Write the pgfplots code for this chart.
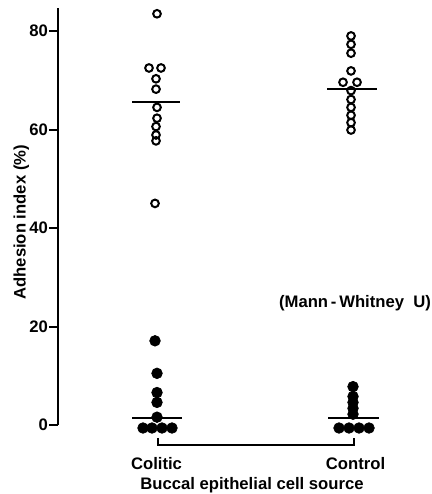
\documentclass[border=0pt]{standalone}
\usepackage{pgfplots}
\pgfplotsset{compat=1.18}
\usepackage{fontspec}
\setmainfont{Liberation Sans}
\begin{document}
\begin{tikzpicture}[lab/.style={font=\bfseries\normalsize, inner sep=0pt}]
\begin{axis}[
  x=0.6pt, y=2.955pt,
  xmin=58, xmax=425,
  ymin=0, ymax=84.7,
  clip=false,
  axis lines=left,
  x axis line style={draw=none},
  xtick=\empty,
  y axis line style={line width=1.2pt, -},
  ytick={0,20,...,80},
  tick align=outside,
  major tick length=5.5pt,
  tick style={line width=1.2pt, black},
  /pgf/number format/assume math mode=true,
  yticklabel style={font=\bfseries\normalsize, xshift=3pt},
  ylabel={\bfseries Adhesion index (\%)},
  ylabel style={font=\normalsize, inner sep=0pt, at={(axis description cs:-0.10,0.486)}, anchor=center},
  openc/.style={only marks, mark=o, mark size=2.3pt, mark options={line width=1.2pt, fill=white}},
  fillc/.style={only marks, mark=*, mark size=3.2pt, mark options={fill=black}},
  med/.style={black, line width=1.2pt, no marks},
]
% medians
\addplot[med] coordinates {(132,65.5) (180,65.5)};
\addplot[med] coordinates {(327,68.2) (377,68.2)};
\addplot[med] coordinates {(132,1.5) (182,1.5)};
\addplot[med] coordinates {(328,1.5) (379,1.5)};
% colitic, open
\addplot[openc] coordinates {
 (157,83.5) (149,72.5) (161,72.5) (156,70.3) (156,68.2) (157,64.5)
 (157,62.3) (156,60.6) (156,58.9) (156,57.7) (155,45.0)
};
% control, open
\addplot[openc] coordinates {
 (351,79.0) (351,77.3) (351,75.5) (351,71.9) (343,69.6) (357,69.6)
 (351,67.9) (351,66.1) (351,64.5) (351,62.9) (351,61.4) (351,59.9)
};
% colitic, filled
\addplot[fillc] coordinates {
 (155,17.1) (157,10.5) (157,6.6) (157,4.6) (157,1.6)
 (143,-0.6) (152,-0.6) (162,-0.6) (172,-0.6)
};
% control, filled
\addplot[fillc] coordinates {
 (353,7.8) (353,5.8) (353,4.6) (353,3.4) (353,2.2)
 (339,-0.6) (349,-0.6) (359,-0.6) (369,-0.6)
};
% bracket
\addplot[black, line width=1.2pt, no marks] coordinates {(158,-2.6) (158,-4.1) (354,-4.1) (354,-2.6)};
\node[lab] at (axis cs:156.5,-7.9) {Colitic};
\node[lab] at (axis cs:355.5,-7.9) {Control};
\node[lab] at (axis cs:252,-12.3) {Buccal epithelial cell source};
\node[lab] at (axis cs:355,24.8) {(Mann\,-\,Whitney\ \ U)};
% page extent
\path (axis cs:0,86.3) (axis cs:431,-14.0);
\end{axis}
\end{tikzpicture}
\end{document}
